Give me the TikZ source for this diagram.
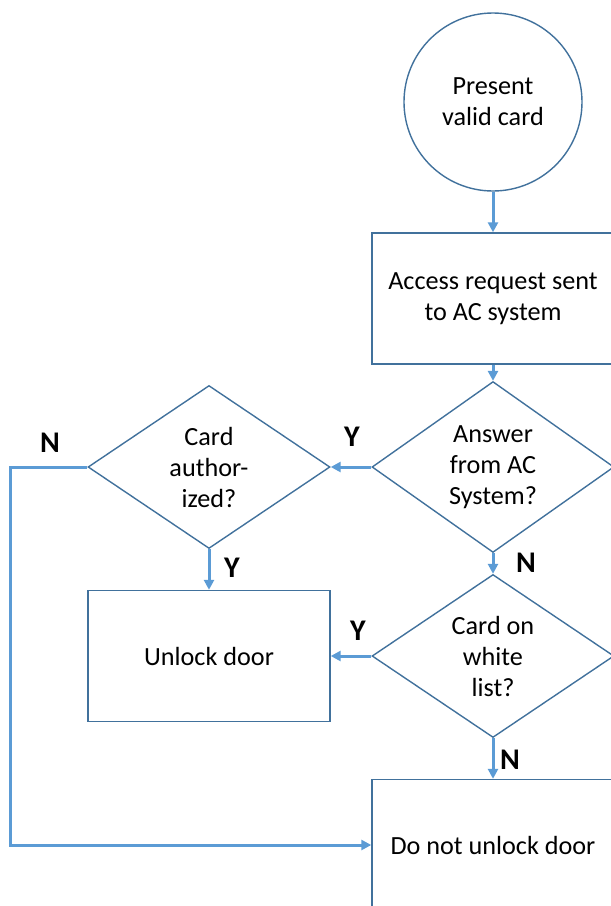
\documentclass[tikz,border=0pt]{standalone}
\usepackage{fontspec}
\setmainfont{Carlito}
\usepackage{xcolor}
\usetikzlibrary{shapes.geometric,arrows.meta}
\definecolor{boxblue}{HTML}{41719C}
\definecolor{lineblue}{HTML}{5B9BD5}

\begin{document}
\begin{tikzpicture}[x=1pt,y=-1pt,
  shapeline/.style={draw=boxblue,line width=1.4pt,align=center,inner sep=0pt,
    font=\fontsize{26.2}{31}\selectfont},
  box/.style={shapeline,rectangle,minimum width=242pt,minimum height=131pt},
  decision/.style={shapeline,diamond,minimum width=242pt,minimum height=163pt},
  flow/.style={lineblue,line width=3pt,-{Triangle[length=10pt,width=10pt]}},
  yn/.style={font=\fontsize{30}{32}\selectfont\bfseries}]
  \useasboundingbox (0,0) rectangle (611,906);
  \clip (0,0) rectangle (611,906);

  % right column
  \node[shapeline,circle,minimum size=178pt] (start) at (493,102) {Present\\valid card};
  \node[box] (request) at (493,298.5) {Access request sent\\to AC system};
  \node[decision] (answer) at (493,467) {Answer\\from AC\\System?};
  \node[decision] (whitelist) at (493,656) {Card on\\white\\list?};
  \node[box] (refuse) at (493,845) {Do not unlock door};

  % left column
  \node[decision] (authorized) at (209,467) {Card\\author-\\ized?};
  \node[box] (unlock) at (209,656) {Unlock door};

  \draw[flow] (start) -- (request);
  \draw[flow] (request) -- (answer);
  \draw[flow] (answer.west) -- (authorized.east);
  \draw[flow] (answer.south) -- (whitelist.north);
  \draw[flow] (authorized.south) -- (unlock.north);
  \draw[flow] (whitelist.west) -- (unlock.east);
  \draw[flow] (whitelist.south) -- (refuse.north);
  \coordinate (bend) at (10,467);
  \draw[flow] (authorized.west) -- (bend) |- (refuse.west);

  \node[yn] (yanswer) at (352,437) {Y};
  \node[yn] (nanswer) at (526,563) {N};
  \node[yn] (yauth) at (232,568) {Y};
  \node[yn] (nauth) at (50,443) {N};
  \node[yn] (ywhite) at (358,631) {Y};
  \node[yn] (nwhite) at (510,760) {N};
\end{tikzpicture}
\end{document}
